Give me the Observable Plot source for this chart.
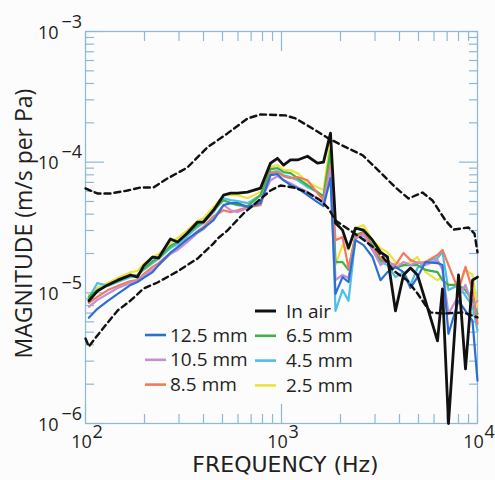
<!DOCTYPE html>
<html><head><meta charset="utf-8">
<script src="https://cdn.jsdelivr.net/npm/d3@7"></script>
<script src="https://cdn.jsdelivr.net/npm/@observablehq/plot@0.6"></script>
<style>
html,body{margin:0;padding:0;background:#fcfcfd;}
#chart{width:495px;height:480px;}
</style></head><body><div id="chart"></div>
<script>
// ---- data (frequency in Hz, magnitude in m/s per Pa) ----
const freq = [104,115,130,146,170,184,198,220,236,271,295,331,373,400,450,506,550,597,671,782,879,954,1024,1112,1207,1357,1526,1638,1778,1886,2048,2197,2386,2620,2913,3200,3474,3815,4192,4552,4942,5428,6250,6628,7112,7998,8685,9430,10000];
const inAir = [8.69e-6,1.03e-5,1.15e-5,1.25e-5,1.37e-5,1.32e-5,1.61e-5,1.88e-5,1.85e-5,2.58e-5,2.45e-5,2.87e-5,3.48e-5,3.48e-5,4.29e-5,5.59e-5,5.79e-5,5.79e-5,5.90e-5,6.33e-5,9.83e-5,1.07e-4,9.49e-5,1.04e-4,1.04e-4,1.11e-4,9.83e-5,1.0e-4,1.67e-4,3.42e-5,3.02e-5,2.20e-5,3.13e-5,3.02e-5,2.53e-5,2.05e-5,1.88e-5,7.28e-6,1.37e-5,1.55e-5,1.37e-5,8.69e-6,4.29e-6,1.07e-5,1.0e-6,1.37e-5,2.62e-6,1.25e-5,1.32e-5];
const mm25 = [9.65e-6,1.09e-5,1.19e-5,1.30e-5,1.44e-5,1.47e-5,1.66e-5,1.88e-5,1.98e-5,2.40e-5,2.62e-5,3.02e-5,3.54e-5,3.73e-5,4.53e-5,5.59e-5,5.59e-5,5.59e-5,5.30e-5,5.90e-5,9.16e-5,9.49e-5,8.69e-5,8.69e-5,8.24e-5,7.03e-5,6.44e-5,6.11e-5,1.47e-4,1.63e-5,2.32e-5,2.13e-5,3.13e-5,3.30e-5,2.53e-5,2.20e-5,2.05e-5,1.72e-5,1.63e-5,1.72e-5,1.88e-5,1.44e-5,1.25e-5,1.32e-5,1.05e-5,1.15e-5,1.50e-5,1.37e-5,7.95e-6];
const mm45 = [9.16e-6,1.19e-5,1.13e-5,1.21e-5,1.32e-5,1.35e-5,1.50e-5,1.69e-5,1.82e-5,2.20e-5,2.36e-5,2.72e-5,3.19e-5,3.42e-5,4.15e-5,5.30e-5,5.12e-5,5.03e-5,4.86e-5,5.59e-5,8.39e-5,8.53e-5,7.95e-5,7.68e-5,7.28e-5,6.44e-5,5.90e-5,5.30e-5,1.07e-4,7.28e-6,1.05e-5,8.69e-6,2.62e-5,2.77e-5,2.13e-5,1.72e-5,1.63e-5,1.32e-5,1.44e-5,1.15e-5,1.55e-5,1.72e-5,1.85e-5,2.05e-5,1.05e-5,1.15e-5,9.49e-6,7.95e-6,5.12e-6];
const mm65 = [9.32e-6,1.05e-5,1.15e-5,1.23e-5,1.35e-5,1.37e-5,1.52e-5,1.75e-5,1.85e-5,2.28e-5,2.45e-5,2.82e-5,3.30e-5,3.54e-5,4.29e-5,5.12e-5,4.86e-5,4.69e-5,4.61e-5,5.59e-5,8.84e-5,9.0e-5,8.39e-5,8.24e-5,7.54e-5,6.67e-5,5.90e-5,5.49e-5,1.24e-4,1.72e-5,1.72e-5,1.50e-5,2.77e-5,2.92e-5,2.32e-5,1.78e-5,1.72e-5,1.55e-5,1.63e-5,1.63e-5,1.63e-5,1.50e-5,1.44e-5,1.25e-5,1.15e-5,1.15e-5,1.05e-5,8.69e-6,6.91e-6];
const mm85 = [8.39e-6,9.32e-6,1.05e-5,1.13e-5,1.23e-5,1.25e-5,1.39e-5,1.58e-5,1.69e-5,2.02e-5,2.20e-5,2.53e-5,2.97e-5,3.19e-5,3.86e-5,4.29e-5,4.15e-5,4.29e-5,4.53e-5,4.69e-5,8.24e-5,8.39e-5,7.81e-5,7.54e-5,7.68e-5,7.28e-5,5.79e-5,5.12e-5,9.49e-5,2.53e-5,2.67e-5,1.55e-5,2.67e-5,2.87e-5,2.24e-5,1.85e-5,1.72e-5,1.63e-5,2.02e-5,1.78e-5,1.69e-5,1.72e-5,1.95e-5,2.13e-5,1.63e-5,1.05e-5,1.58e-5,1.05e-5,5.79e-6];
const mm105 = [7.81e-6,8.84e-6,9.83e-6,1.09e-5,1.19e-5,1.23e-5,1.35e-5,1.50e-5,1.63e-5,1.98e-5,2.13e-5,2.45e-5,2.87e-5,3.07e-5,3.73e-5,4.69e-5,4.29e-5,4.15e-5,4.45e-5,5.12e-5,7.28e-5,7.81e-5,7.28e-5,6.91e-5,6.44e-5,5.90e-5,5.30e-5,4.86e-5,8.69e-5,1.25e-5,1.37e-5,1.30e-5,2.62e-5,2.77e-5,2.13e-5,1.63e-5,1.78e-5,1.55e-5,1.72e-5,1.63e-5,1.72e-5,1.63e-5,1.78e-5,1.50e-5,6.91e-6,9.49e-6,1.15e-5,7.95e-6,8.69e-6];
const mm125 = [6.44e-6,7.54e-6,8.69e-6,9.83e-6,1.15e-5,1.21e-5,1.30e-5,1.44e-5,1.63e-5,2.02e-5,2.24e-5,2.58e-5,2.92e-5,3.13e-5,3.60e-5,4.69e-5,4.86e-5,4.86e-5,4.53e-5,4.86e-5,7.95e-5,8.09e-5,7.28e-5,6.67e-5,6.33e-5,5.59e-5,4.94e-5,4.61e-5,7.54e-5,9.83e-6,1.32e-5,1.21e-5,2.53e-5,2.32e-5,1.88e-5,1.25e-5,1.44e-5,1.58e-5,1.44e-5,1.09e-5,1.32e-5,1.72e-5,1.69e-5,1.63e-5,4.86e-6,8.69e-6,7.28e-6,6.11e-6,2.13e-6];
const upperFreq = [100,115,134,164,191,222,262,331,419,530,671,782,1048,1179,1440,1737,2048,2590,3126,3815,4446,5241,5893,6866,7545,8999,9654,10000];
const upperMag = [6.29e-5,5.76e-5,5.76e-5,6.07e-5,6.40e-5,6.40e-5,7.50e-5,9.10e-5,1.30e-4,1.66e-4,2.16e-4,2.32e-4,2.28e-4,2.16e-4,1.81e-4,1.52e-4,1.34e-4,1.13e-4,8.63e-5,6.40e-5,5.27e-5,5.86e-5,5.09e-5,3.58e-5,3.05e-5,3.16e-5,2.84e-5,2.04e-5];
const lowerFreq = [100,104,115,130,146,170,198,233,295,373,450,472,530,640,879,988,1151,1357,1581,1737,1886,2530,3089,3727,4395,4942,5757,6707,8483,10000];
const lowerMag = [4.47e-6,3.88e-6,4.72e-6,5.93e-6,7.33e-6,8.74e-6,1.08e-5,1.20e-5,1.46e-5,1.83e-5,2.39e-5,2.60e-5,3.0e-5,4.05e-5,6.07e-5,6.63e-5,6.40e-5,5.86e-5,5.09e-5,4.42e-5,3.58e-5,2.65e-5,2.11e-5,1.48e-5,1.24e-5,9.88e-6,7.07e-6,6.95e-6,7.07e-6,6.48e-6];
const xMajorTicks = [100, 1000, 10000];
const xExponents = ["2", "3", "4"];
const xMinorTicks = [200,300,400,500,600,700,800,900,2000,3000,4000,5000,6000,7000,8000,9000];
const yMajorTicks = [1e-6, 1e-5, 1e-4, 1e-3];
const yExponents = ["\u22126", "\u22125", "\u22124", "\u22123"];
const yMinorTicks = [2e-6,3e-6,4e-6,5e-6,6e-6,7e-6,8e-6,9e-6,2e-5,3e-5,4e-5,5e-5,6e-5,7e-5,8e-5,9e-5,2e-4,3e-4,4e-4,5e-4,6e-4,7e-4,8e-4,9e-4];
const seriesNames = ["2.5 mm","4.5 mm","6.5 mm","8.5 mm","10.5 mm","12.5 mm"];
const seriesValues = [mm25, mm45, mm65, mm85, mm105, mm125];

// ---- styles ----
const colors = {"2.5 mm":"#ebe33b","4.5 mm":"#4cbfe6","6.5 mm":"#3fb04c","8.5 mm":"#f27a5b","10.5 mm":"#c390d8","12.5 mm":"#2e6ed2","In air":"#111111"};
const tickColor = "#8dbad0";
const ink = "#231f20";
const font = "'Open Sans', sans-serif";

const rows = (fs, ms) => fs.map((f, i) => ({f, m: ms[i]}));
const blank = () => "";

const colorMarks = seriesNames.map((name, k) =>
  Plot.line(rows(freq, seriesValues[k]), {x: "f", y: "m", stroke: colors[name], strokeWidth: 2.2, strokeLinejoin: "round"})
);

const tickAxes = [];
for (const anchor of ["bottom", "top"]) {
  tickAxes.push(Plot.axisX(xMinorTicks, {anchor, tickSize: -9, stroke: tickColor, strokeWidth: 1.2, tickFormat: blank, label: null}));
  tickAxes.push(Plot.axisX(xMajorTicks, {anchor, tickSize: -19, stroke: tickColor, strokeWidth: 1.2, tickFormat: blank, label: null}));
}
for (const anchor of ["left", "right"]) {
  tickAxes.push(Plot.axisY(yMinorTicks, {anchor, tickSize: -9, stroke: tickColor, strokeWidth: 1.2, tickFormat: blank, label: null}));
  tickAxes.push(Plot.axisY(yMajorTicks, {anchor, tickSize: -19, stroke: tickColor, strokeWidth: 1.2, tickFormat: blank, label: null}));
}

const plot = Plot.plot({
  width: 495, height: 480,
  marginLeft: 85, marginRight: 18, marginTop: 31, marginBottom: 57,
  style: {background: "transparent", fontFamily: font, color: ink},
  x: {type: "log", domain: [100, 10000]},
  y: {type: "log", domain: [1e-6, 1e-3]},
  marks: [
    ...tickAxes,
    Plot.frame({stroke: tickColor, strokeWidth: 1.2}),
    ...colorMarks,
    Plot.line(rows(freq, inAir), {x: "f", y: "m", stroke: colors["In air"], strokeWidth: 2.8, strokeLinejoin: "round"}),
    Plot.line(rows(upperFreq, upperMag), {x: "f", y: "m", stroke: "#111", strokeWidth: 2.4, strokeDasharray: "6,4"}),
    Plot.line(rows(lowerFreq, lowerMag), {x: "f", y: "m", stroke: "#111", strokeWidth: 2.4, strokeDasharray: "6,4"}),
    // tick labels
    Plot.text(yMajorTicks, {y: d => d, frameAnchor: "left", dx: -27, dy: 1.5, text: () => "10", textAnchor: "end", fontSize: 18, fill: ink}),
    Plot.text(yMajorTicks, {y: d => d, frameAnchor: "left", dx: -24, dy: -9.5, text: (d, i) => yExponents[i], textAnchor: "start", fontSize: 18, fill: ink}),
    Plot.text(xMajorTicks, {x: d => d, frameAnchor: "bottom", dx: -4, dy: 24.5, text: () => "10", textAnchor: "middle", fontSize: 18, fill: ink}),
    Plot.text(xMajorTicks, {x: d => d, frameAnchor: "bottom", dx: 7, dy: 14.5, text: (d, i) => xExponents[i], textAnchor: "start", fontSize: 18, fill: ink}),
    // axis titles
    Plot.text(["FREQUENCY (Hz)"], {frameAnchor: "bottom", dx: 4, dy: 48.5, text: d => d, textAnchor: "middle", fontSize: 22, fontFamily: "'DejaVu Sans', sans-serif", fill: ink}),
    Plot.text(["MAGNITUDE (m/s per Pa)"], {frameAnchor: "left", dx: -61, dy: -4, rotate: -90, text: d => d, textAnchor: "middle", fontSize: 23, fill: ink})
  ]
});

// ---- legend inside the frame ----
const legendCols = [
  {names: ["12.5 mm","10.5 mm","8.5 mm"], x: 145, textX: 170, y: 335},
  {names: ["In air","6.5 mm","4.5 mm","2.5 mm"], x: 255, textX: 286, y: 311}
];
const svg = d3.select(plot);
const lg = svg.append("g").attr("font-family", font).attr("font-size", 19).attr("fill", ink).attr("text-anchor", "start");
legendCols.forEach(col => {
  col.names.forEach((name, i) => {
    const y = col.y + i * 24.8;
    lg.append("line").attr("x1", col.x).attr("x2", col.x + 21).attr("y1", y).attr("y2", y)
      .attr("stroke", colors[name]).attr("stroke-width", name === "In air" ? 3 : 2.6);
    lg.append("text").attr("x", col.textX).attr("y", y).attr("dy", "0.35em").attr("text-anchor", "start").text(name);
  });
});
document.getElementById("chart").appendChild(plot);
</script>
</body></html>
